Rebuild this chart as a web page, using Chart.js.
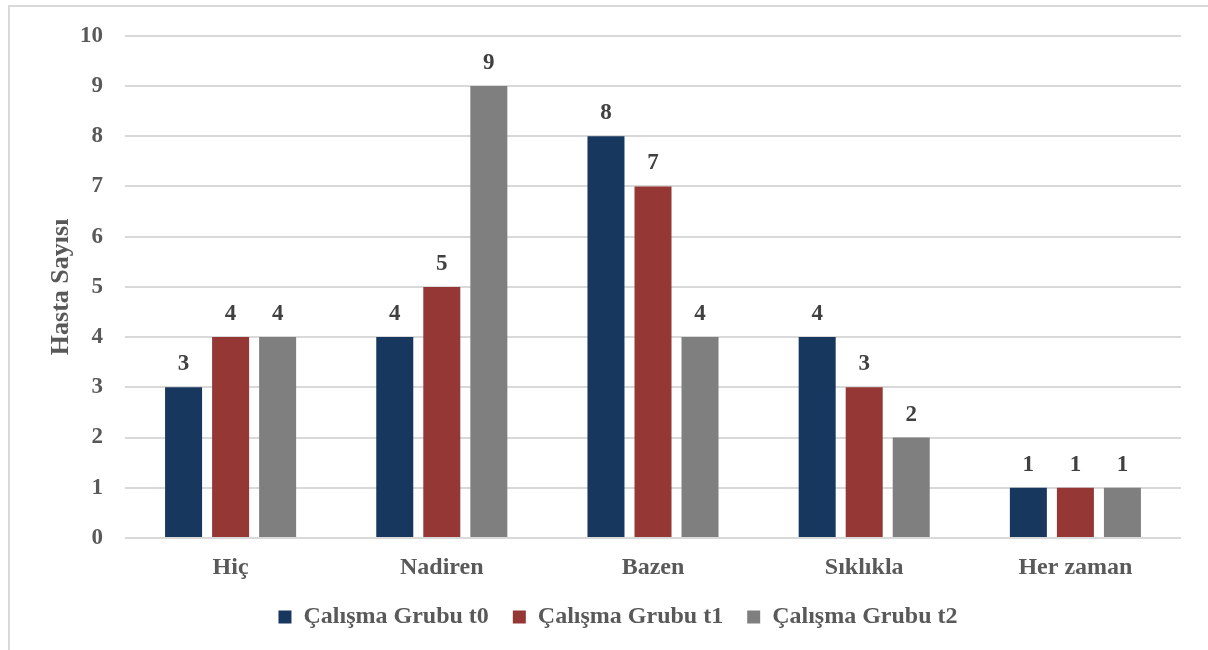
<!DOCTYPE html>
<html>
<head>
<meta charset="utf-8">
<script src="https://cdn.jsdelivr.net/npm/chart.js@4.4.1/dist/chart.umd.min.js"></script>
<style>
  html, body { margin: 0; padding: 0; background: #fff; }
  #wrap { position: relative; width: 1208px; height: 650px; overflow: hidden; }
  #frame { position: absolute; left: 8px; top: 5px; width: 1210px; height: 700px; border: 2px solid #D9D9D9; box-sizing: border-box; }
  canvas { position: absolute; left: 0; top: 0; }
</style>
</head>
<body>
<div id="wrap">
  <div id="frame"></div>
  <canvas id="c" width="1208" height="650"></canvas>
</div>
<script>
// Response categories and patient counts per measurement time
const categories = ['Hiç', 'Nadiren', 'Bazen', 'Sıklıkla', 'Her zaman'];
const seriesNames = ['Çalışma Grubu t0', 'Çalışma Grubu t1', 'Çalışma Grubu t2'];
const groupT0 = [3, 4, 8, 4, 1];
const groupT1 = [4, 5, 7, 3, 1];
const groupT2 = [4, 9, 4, 2, 1];
const yTicks = [0, 1, 2, 3, 4, 5, 6, 7, 8, 9, 10];
const seriesColors = ['#17375E', '#953735', '#7F7F7F'];

const FONT = '"Liberation Serif", "Times New Roman", serif';

// Draws each bar's value above it
const valueLabels = {
  id: 'valueLabels',
  afterDatasetsDraw(chart) {
    const ctx = chart.ctx;
    ctx.save();
    ctx.font = 'bold 23px ' + FONT;
    ctx.fillStyle = '#404040';
    ctx.textAlign = 'center';
    ctx.textBaseline = 'alphabetic';
    chart.data.datasets.forEach((ds, i) => {
      chart.getDatasetMeta(i).data.forEach((bar, j) => {
        ctx.fillText(String(ds.data[j]), bar.x, bar.y - 17);
      });
    });
    ctx.restore();
  }
};

const seriesData = [groupT0, groupT1, groupT2];

new Chart(document.getElementById('c'), {
  type: 'bar',
  data: {
    labels: categories,
    datasets: seriesNames.map((name, i) => ({
      label: name,
      data: seriesData[i],
      backgroundColor: seriesColors[i],
      categoryPercentage: 0.668,
      barPercentage: 0.787
    }))
  },
  options: {
    responsive: false,
    animation: false,
    layout: { padding: { left: 28, right: 0, top: 35, bottom: 11 } },
    plugins: {
      legend: {
        position: 'bottom',
        labels: {
          boxWidth: 13,
          boxHeight: 13,
          padding: 24,
          color: '#595959',
          font: { family: FONT, size: 24, weight: 'bold' }
        }
      },
      tooltip: { enabled: false }
    },
    scales: {
      x: {
        grid: { display: false },
        border: { display: false },
        ticks: {
          color: '#595959',
          padding: 7,
          font: { family: FONT, size: 24, weight: 'bold' }
        },
        afterFit(scale) { scale.height = 43; }
      },
      y: {
        min: 0,
        max: 10,
        afterBuildTicks(scale) { scale.ticks = yTicks.map(v => ({ value: v })); },
        grid: { color: '#D9D9D9', lineWidth: 2, drawTicks: false },
        border: { display: false },
        ticks: {
          color: '#595959',
          padding: 22,
          font: { family: FONT, size: 23, weight: 'bold' }
        },
        title: {
          display: true,
          text: 'Hasta Sayısı',
          color: '#595959',
          padding: { top: 18, bottom: 0 },
          font: { family: FONT, size: 26, weight: 'bold' }
        },
        afterFit(scale) { scale.width = 97; }
      },
      // empty right-hand margin strip beside the plot
      yRight: {
        position: 'right',
        min: 0,
        max: 10,
        grid: { display: false },
        border: { display: false },
        ticks: { display: false },
        afterFit(scale) { scale.width = 27; }
      }
    }
  },
  plugins: [valueLabels]
});
</script>
</body>
</html>
